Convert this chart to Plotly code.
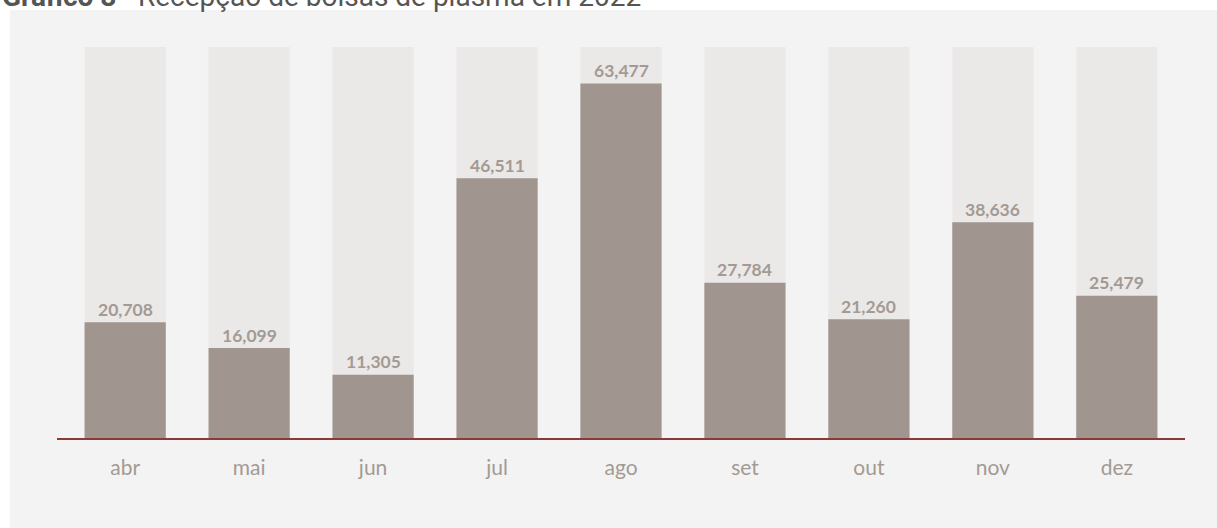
import plotly.graph_objects as go

months = ["abr", "mai", "jun", "jul", "ago", "set", "out", "nov", "dez"]
values = [20708, 16099, 11305, 46511, 63477, 27784, 21260, 38636, 25479]
background_max = [70000] * len(months)
value_labels = [f"{v:,}" for v in values]

W, H = 1217, 528
L, R, T, B = 57, 32, 47, 90
pw, ph = W - L - R, H - T - B

def px_x(p):
    return (p - L) / pw

def px_y(p):
    return (H - B - p) / ph

fig = go.Figure()
fig.add_trace(go.Bar(x=months, y=background_max, width=0.655,
                     marker=dict(color="#ebe8e8", line=dict(width=0)),
                     hoverinfo="skip", showlegend=False))
fig.add_trace(go.Bar(x=months, y=values, width=0.655,
                     marker=dict(color="#a0958f", line=dict(width=0)),
                     showlegend=False))

for m, v, t in zip(months, values, value_labels):
    fig.add_annotation(x=m, y=v, text=f"<b>{t}</b>", showarrow=False,
                       yanchor="middle", yshift=13,
                       font=dict(family="Lato", size=17.5, color="#a39a94"))

# white page strips around the grey panel
fig.add_shape(type="rect", xref="paper", yref="paper",
              x0=px_x(-5), x1=px_x(W + 5), y0=px_y(10), y1=px_y(-5),
              fillcolor="white", line=dict(width=0), layer="above")
fig.add_shape(type="rect", xref="paper", yref="paper",
              x0=px_x(-5), x1=px_x(10), y0=px_y(H + 5), y1=px_y(-5),
              fillcolor="white", line=dict(width=0), layer="above")

fig.add_annotation(xref="paper", yref="paper", x=px_x(0), y=px_y(-4),
                   xanchor="left", yanchor="middle", showarrow=False,
                   text="<b>Gráfico 8</b> - Recepção de bolsas de plasma em 2022",
                   font=dict(family="Roboto", size=28, color="#555555"))

fig.update_layout(
    width=W, height=H,
    margin=dict(l=L, r=R, t=T, b=B),
    paper_bgcolor="#f3f3f3",
    plot_bgcolor="rgba(0,0,0,0)",
    barmode="overlay",
    bargap=0.35,
    xaxis=dict(range=[-0.55, 8.55], showgrid=False, zeroline=False,
               showline=True, linecolor="#8b3a3a", linewidth=1.5,
               ticks="", ticklabelstandoff=10,
               tickfont=dict(family="Lato", size=21, color="#a39a94")),
    yaxis=dict(range=[0, 70000], showgrid=False, zeroline=False,
               showticklabels=False, showline=False),
)

fig.write_html("out.html", config={"displayModeBar": False},
               post_script="document.body.style.margin='0px';")
